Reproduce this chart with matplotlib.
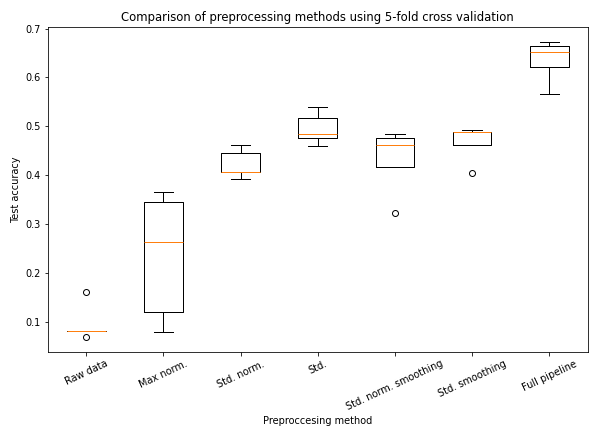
import matplotlib.pyplot as plt

methods = ["Raw data", "Max norm.", "Std. norm.", "Std.",
           "Std. norm. smoothing", "Std. smoothing", "Full pipeline"]

# test accuracy of each of the 5 folds
raw_data = [0.069, 0.081, 0.081, 0.081, 0.161]
max_norm = [0.079, 0.120, 0.264, 0.346, 0.366]
std_norm = [0.392, 0.407, 0.407, 0.446, 0.462]
std_only = [0.460, 0.477, 0.485, 0.518, 0.540]
std_norm_smooth = [0.323, 0.417, 0.462, 0.477, 0.485]
std_smooth = [0.405, 0.462, 0.488, 0.489, 0.493]
full_pipeline = [0.567, 0.622, 0.653, 0.665, 0.673]

scores = [raw_data, max_norm, std_norm, std_only,
          std_norm_smooth, std_smooth, full_pipeline]

plt.rcParams["font.size"] = 9.7

fig, ax = plt.subplots(figsize=(589 / 72, 428 / 72), dpi=72)
ax.boxplot(scores)
ax.set_xticks(range(1, len(methods) + 1))
ax.set_xticklabels(methods, rotation=25)
ax.set_title("Comparison of preprocessing methods using 5-fold cross validation")
ax.set_xlabel("Preproccesing method")
ax.set_ylabel("Test accuracy")
fig.subplots_adjust(left=0.081, right=0.998, top=0.937, bottom=0.178)
fig.savefig("out.png")
plt.close(fig)
